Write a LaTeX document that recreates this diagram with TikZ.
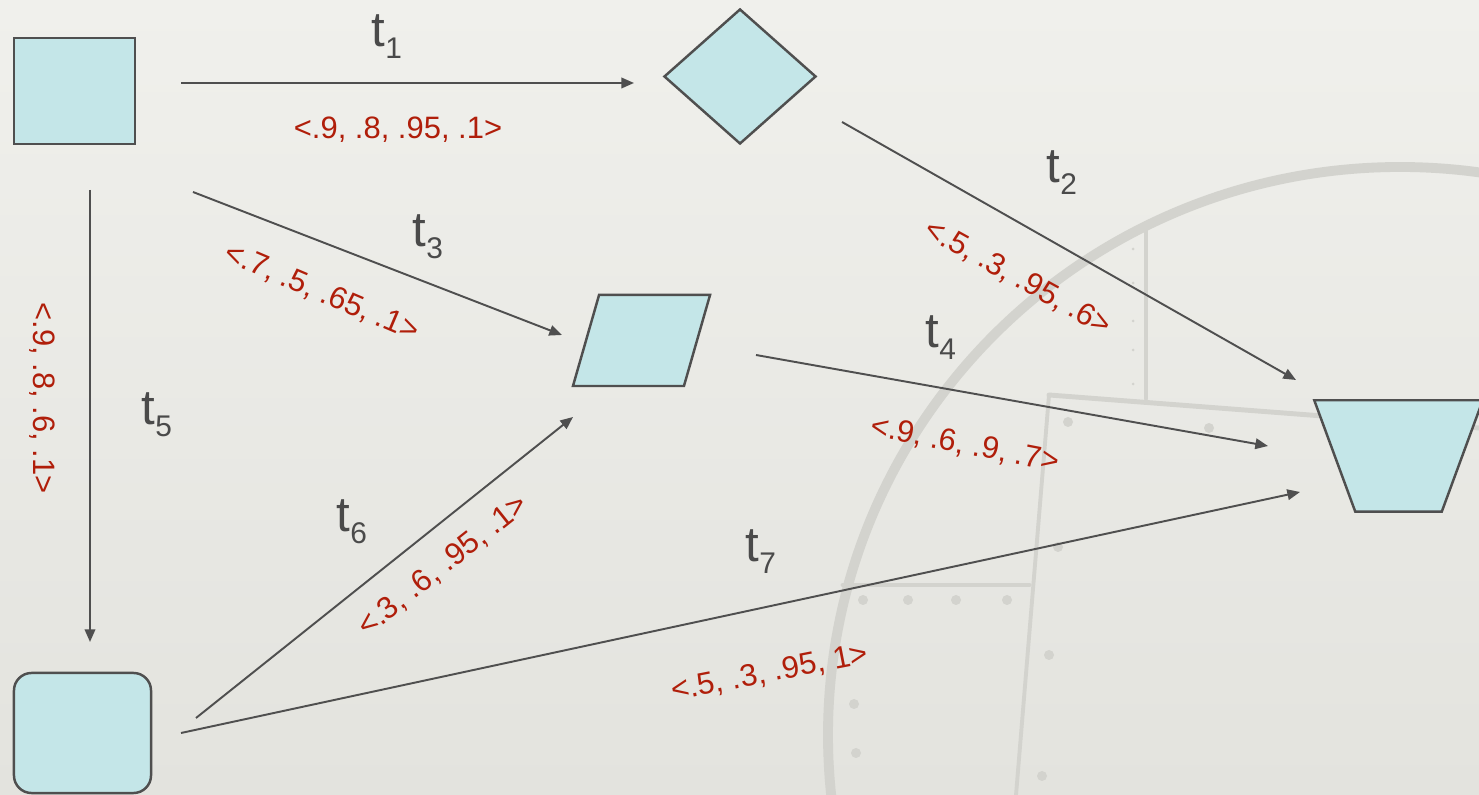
\documentclass[tikz,border=0pt]{standalone}
\usepackage{fontspec}
\setmainfont{Liberation Sans}
\usetikzlibrary{shapes.geometric,arrows.meta}
\definecolor{bgA}{HTML}{F0F0EC}
\definecolor{bgB}{HTML}{E3E3DE}
\definecolor{deco}{HTML}{D3D3CE}
\definecolor{fillc}{HTML}{C4E6E8}
\definecolor{edgec}{HTML}{4F4F4F}
\definecolor{tcol}{HTML}{4A4A4A}
\definecolor{rcol}{HTML}{B01E0A}
\newcommand{\tsub}[1]{t\raisebox{-3.4pt}{\fontsize{8.5}{10}\selectfont #1}}
\begin{document}
\begin{tikzpicture}[x=0.01cm,y=-0.01cm,
  shapebox/.style={draw=edgec,line width=0.7pt,fill=fillc,inner sep=0pt},
  arr/.style={draw=edgec,line width=0.55pt,-{Triangle[length=3.6pt,width=3pt]}},
  tlab/.style={text=tcol,font=\fontsize{14}{16}\selectfont,anchor=base west,inner sep=0pt},
  rlab/.style={text=rcol,font=\fontsize{8.8}{10}\selectfont,inner sep=0pt},
  decoline/.style={draw=deco,line cap=round},
  decodot/.style={fill=deco,draw=none}
]
\useasboundingbox (0,0) rectangle (1479,795);
\clip (0,0) rectangle (1479,795);
\shade[top color=bgA,bottom color=bgB] (0,0) rectangle (1479,795);

% faint background decoration
\draw[decoline,line width=2.8pt] (1400,735) ellipse [x radius=572, y radius=568];
\draw[decoline,line width=0.9pt] (1146,223) -- (1146,399);
\draw[decoline,line width=1.4pt] (1049,395) -- (1479,428);
\draw[decoline,line width=1.1pt] (1049,395) -- (1016,795);
\draw[decoline,line width=1.4pt] (843,585) -- (1029,585);
\foreach \p in {(863,600),(908,600),(956,600),(1007,600),(854,704),(856,753),(1068,422),(1058,547),(1049,655),(1042,776),(1209,428)}
  \fill[decodot] \p circle [radius=5];
\foreach \yy in {249,283,321,350,384}
  \fill[decodot] (1133,\yy) circle [radius=1.5];

% nodes
\node[shapebox,minimum width=1.21cm,minimum height=1.06cm] (sq) at (74.5,91) {};
\node[shapebox,diamond,minimum width=1.52cm,minimum height=1.35cm] (dia) at (740,76.5) {};
\node[shapebox,inner sep=1pt,trapezium,trapezium stretches=true,trapezium left angle=72.9,trapezium right angle=107.1,minimum width=1.37cm,minimum height=0.91cm] (par) at (641.5,340.5) {};
\node[inner sep=0pt,minimum width=1.67cm,minimum height=1.10cm] (trap) at (1398.5,456) {};
\path[shapebox] (trap.north west) -- (trap.north east)
  -- ([xshift=-0.41cm]trap.south east) -- ([xshift=0.41cm]trap.south west) -- cycle;
\node[shapebox,rounded corners=5pt,minimum width=1.37cm,minimum height=1.20cm] (rr) at (82.5,733) {};

% connector ends
\coordinate (a1s) at (181,83);   \coordinate (a1e) at (634,83);
\coordinate (a2s) at (842,122);  \coordinate (a2e) at (1296,380);
\coordinate (a3s) at (193,192);  \coordinate (a3e) at (562,335);
\coordinate (a4s) at (756,355);  \coordinate (a4e) at (1268,446);
\coordinate (a5s) at (90,190);   \coordinate (a5e) at (90,642);
\coordinate (a6s) at (196,718);  \coordinate (a6e) at (573,417);
\coordinate (a7s) at (181,733);  \coordinate (a7e) at (1300,492);

\draw[arr] (a1s) -- (a1e);
\draw[arr] (a2s) -- (a2e);
\draw[arr] (a3s) -- (a3e);
\draw[arr] (a4s) -- (a4e);
\draw[arr] (a5s) -- (a5e);
\draw[arr] (a6s) -- (a6e);
\draw[arr] (a7s) -- (a7e);

% transition names
\node[tlab] (t1) at (371,47) {\tsub{1}};
\node[tlab] (t2) at (1046,183) {\tsub{2}};
\node[tlab] (t3) at (412,247) {\tsub{3}};
\node[tlab] (t4) at (925,348) {\tsub{4}};
\node[tlab] (t5) at (141,425) {\tsub{5}};
\node[tlab] (t6) at (336,532) {\tsub{6}};
\node[tlab] (t7) at (745,562) {\tsub{7}};

% value labels
\node[rlab] (l1) at (398,130) {<.9, .8, .95, .1>};
\node[rlab,rotate=-29] (l2) at (1018,278) {<.5, .3, .95, .6>};
\node[rlab,rotate=-23] (l3) at (322,293) {<.7, .5, .65, .1>};
\node[rlab,rotate=-11] (l4) at (965,445) {<.9, .6, .9, .7>};
\node[rlab,rotate=-90] (l5) at (42,398) {<.9, .8, .6, .1>};
\node[rlab,rotate=38.5] (l6) at (443,566) {<.3, .6, .95, .1>};
\node[rlab,rotate=11] (l7) at (770,673) {<.5, .3, .95, 1>};
\end{tikzpicture}
\end{document}
